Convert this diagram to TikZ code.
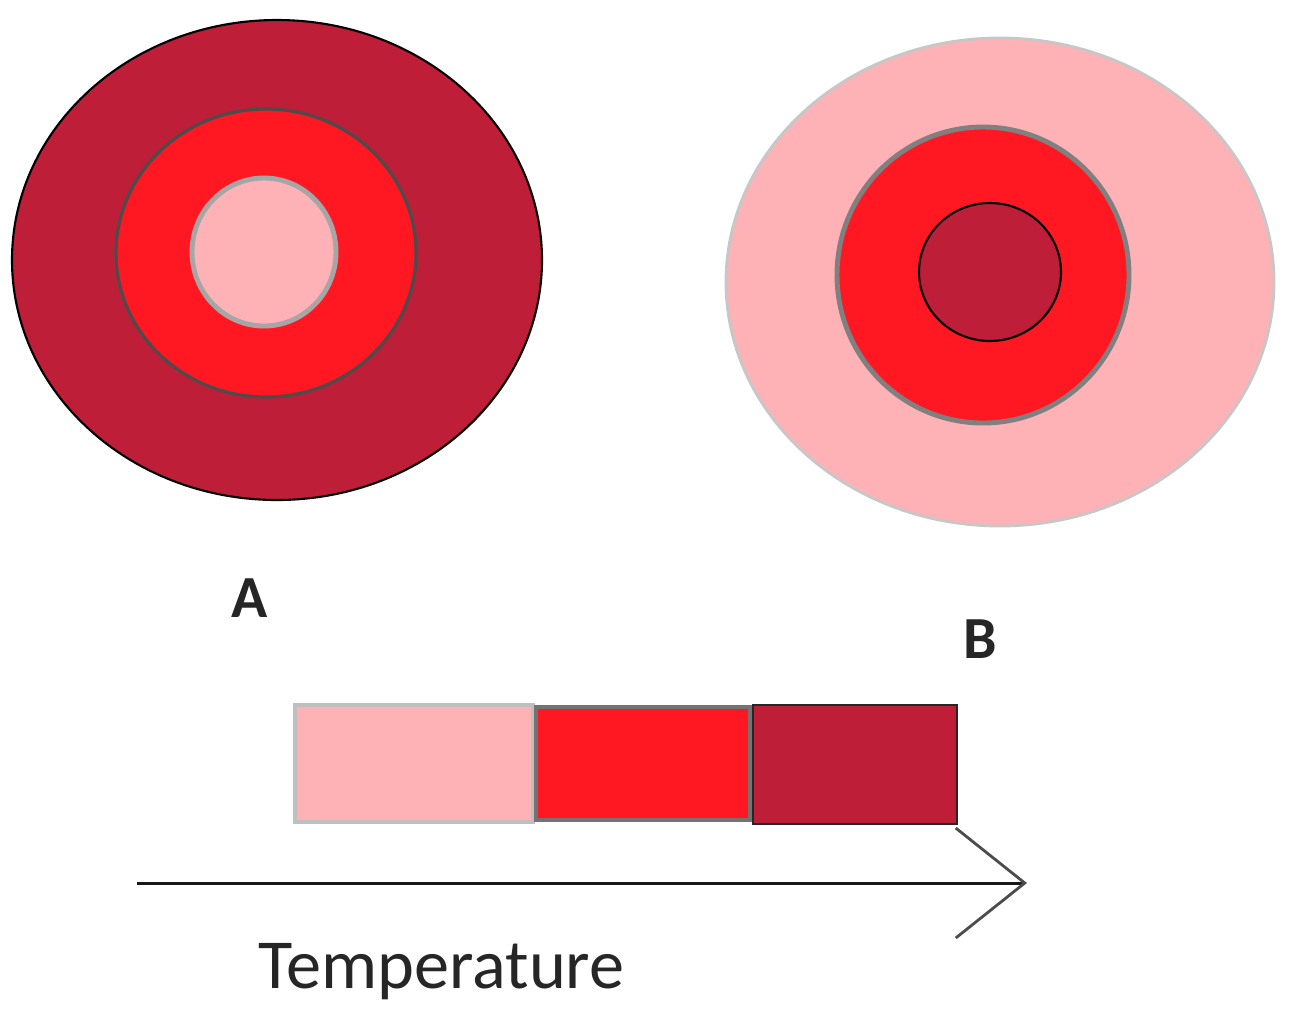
\documentclass[tikz,border=0pt]{standalone}
\usepackage{fontspec}
\setmainfont{Carlito}
\usetikzlibrary{arrows.meta}
\definecolor{darkred}{RGB}{190,30,55}
\definecolor{midred}{RGB}{255,24,34}
\definecolor{lightpink}{RGB}{255,178,182}
\tikzset{
  lbl/.style={inner sep=0pt, font=\fontsize{34}{34}\selectfont\bfseries, text=black!85},
  templbl/.style={inner sep=0pt, font=\fontsize{40}{40}\selectfont, text=black!85},
}
\begin{document}
\begin{tikzpicture}[x=0.02cm,y=-0.02cm]
\useasboundingbox[fill=white] (0,0) rectangle (1291,1019);
% ring A
\draw[fill=darkred, draw=black, line width=1.2pt] (277,260) ellipse [x radius=265, y radius=240];
\draw[fill=midred, draw=black!70, line width=1.8pt] (266,253) ellipse [x radius=150, y radius=144];
\draw[fill=lightpink, draw=black!35, line width=2.8pt] (264,252) ellipse [x radius=72, y radius=74];
% ring B
\draw[fill=lightpink, draw=black!22, line width=1.6pt] (1000,282) ellipse [x radius=274, y radius=244];
\draw[fill=midred, draw=black!50, line width=2.8pt] (983,275) ellipse [x radius=146, y radius=148];
\draw[fill=darkred, draw=black, line width=1.2pt] (990,272) ellipse [x radius=71, y radius=69];
% labels
\node[lbl] (labA) at (250,598) {A};
\node[lbl] (labB) at (980,639) {B};
% legend
\draw[fill=lightpink, draw=black!25, line width=2.2pt] (295,705) rectangle (533,822);
\draw[fill=midred, draw=black!55, line width=2.6pt] (536,707) rectangle (750,820);
\draw[fill=darkred, draw=black!85, line width=1.6pt] (753,705) rectangle (957,824);
% arrow
\coordinate (ta) at (137,883);
\coordinate (tb) at (1027,883);
\draw[line width=1.7pt, black!90, -{Straight Barb[length=1.38cm, width=2.2cm, line width=1.6pt, color=black!70]}] (ta) -- (tb);
\node[templbl, anchor=base west] (temp) at (258,988) {Temperature};
\end{tikzpicture}
\end{document}
